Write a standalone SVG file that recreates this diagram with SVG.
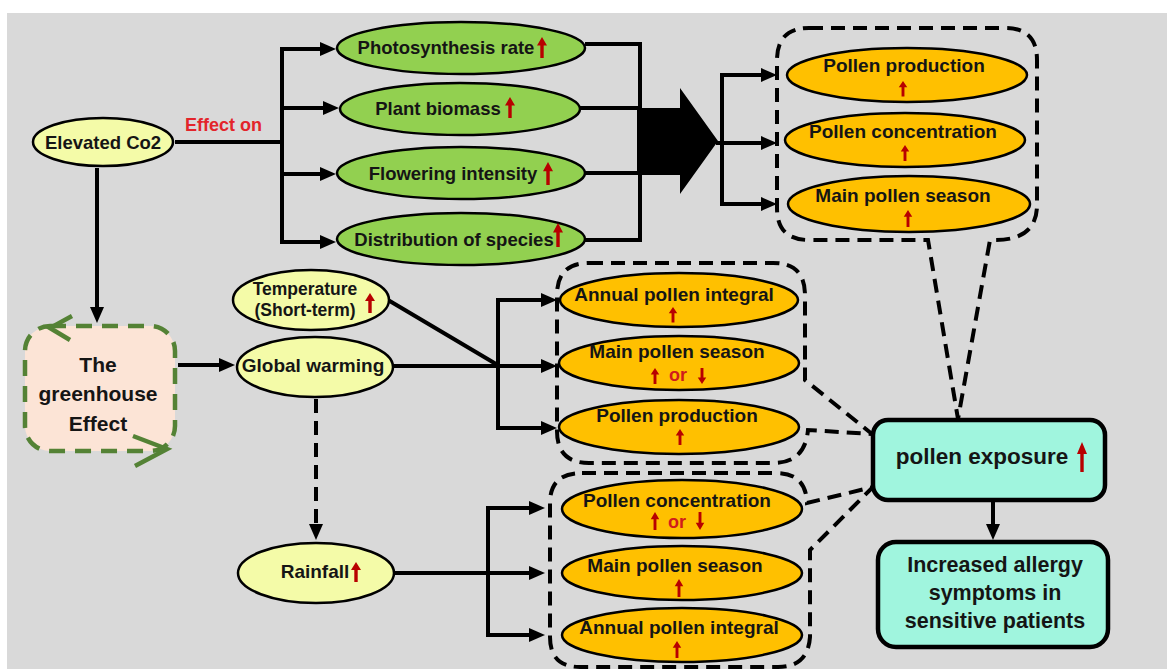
<svg xmlns="http://www.w3.org/2000/svg" xmlns:xlink="http://www.w3.org/1999/xlink" width="1167" height="669" viewBox="0 0 1167 669">
<style>
.t{font-family:"Liberation Sans",Arial,sans-serif;font-weight:bold;fill:#151515;text-anchor:middle}
.g{font-size:18.5px}
.o{font-size:19px}
.y{fill:#f4fba8;stroke:#000;stroke-width:2.5}
.gr{fill:#92d050;stroke:#000;stroke-width:2.5}
.or{fill:#ffc000;stroke:#000;stroke-width:2.5}
.c{fill:none;stroke:#000;stroke-width:4}
.d{fill:none;stroke:#000;stroke-width:4;stroke-dasharray:14 8}
.aq{fill:#a0f5de;stroke:#000;stroke-width:4.5}
.rt{fill:#d01c1c;font-family:"Liberation Sans",Arial,sans-serif;font-weight:bold;text-anchor:middle;font-size:18px}
</style>
<defs>
<marker id="ah" markerUnits="userSpaceOnUse" markerWidth="16" markerHeight="14" viewBox="0 0 16 14" refX="6" refY="7" orient="auto">
<path d="M0,0 L16,7 L0,14 Z" fill="#000"/>
</marker>
<path id="ua" d="M0,0 L5,8 L1.7,8 L1.7,20 L-1.7,20 L-1.7,8 L-5,8 Z" fill="#b80000"/>
</defs>
<rect width="1167" height="669" fill="#fff"/>
<rect x="7" y="13" width="1160" height="656" fill="#d9d9d9"/>

<g id="connectors">
<path class="c" d="M175,142 H282"/>
<path class="c" d="M282,142 V49 H326" marker-end="url(#ah)"/>
<path class="c" d="M282,142 V242 H326" marker-end="url(#ah)"/>
<path class="c" d="M282,108 H329" marker-end="url(#ah)"/>
<path class="c" d="M282,174 H326" marker-end="url(#ah)"/>
<path class="c" d="M97,168 V313" marker-end="url(#ah)"/>
<path class="c" d="M585,44 H640 V240 H585"/>
<path class="c" d="M580,108 H640"/>
<path class="c" d="M585,173 H640"/>
<polygon points="637,108 680,108 680,88 718,141 680,194 680,175 637,175" fill="#000"/>
<path class="c" d="M716,143 H767" marker-end="url(#ah)"/>
<path class="c" d="M722,143 V75 H767" marker-end="url(#ah)"/>
<path class="c" d="M722,143 V204 H767" marker-end="url(#ah)"/>
<path class="c" d="M388,300 L496,364"/>
<path class="c" d="M393,366 H498"/>
<path class="c" d="M498,366 V300 H547" marker-end="url(#ah)"/>
<path class="c" d="M498,366 V428 H547" marker-end="url(#ah)"/>
<path class="c" d="M498,366 H547" marker-end="url(#ah)"/>
<path class="c" d="M178,365 H225" marker-end="url(#ah)"/>
<path class="d" d="M316,399 V530" marker-end="url(#ah)"/>
<path class="c" d="M395,573 H488"/>
<path class="c" d="M488,573 V508 H535" marker-end="url(#ah)"/>
<path class="c" d="M488,573 V635 H535" marker-end="url(#ah)"/>
<path class="c" d="M488,573 H535" marker-end="url(#ah)"/>
<path class="c" d="M993,500 V530" marker-end="url(#ah)"/>
</g>

<g id="group-co2-effects">
<path class="d" d="M809,28 H1005 Q1037,28 1037,60 V205 Q1037,240 995,240 H990 L958,419 L928,240 H809 Q777,240 777,208 V60 Q777,28 809,28 Z"/>
</g>
<g id="group-warming">
<path class="d" d="M589,263 H773 Q805,263 805,295 V380 L872,434 L808,430 Q805,463 773,463 H589 Q557,463 557,431 V295 Q557,263 589,263 Z"/>
</g>
<g id="group-rainfall">
<path class="d" d="M582,473 H776 Q806,473 807,503 L873,487 L810,550 V637 Q808,667 778,667 H580 Q550,667 550,637 V503 Q550,473 582,473 Z"/>
</g>

<g id="elevated-co2">
<ellipse class="y" cx="103" cy="142" rx="70" ry="24"/>
<text class="t" x="103" y="149" font-size="18.5">Elevated Co2</text>
<text x="185" y="131" font-family="Liberation Sans,Arial,sans-serif" font-weight="bold" font-size="18" fill="#e3242b">Effect on</text>
</g>

<g id="photosynthesis">
<ellipse class="gr" cx="461" cy="48" rx="124" ry="26"/>
<text class="t g" x="446" y="54">Photosynthesis rate</text>
<use href="#ua" transform="translate(542,37) scale(1,1.05)"/>
</g>
<g id="plant-biomass">
<ellipse class="gr" cx="460" cy="109" rx="120" ry="26"/>
<text class="t g" x="438" y="115">Plant biomass</text>
<use href="#ua" transform="translate(510,97) scale(1,1.05)"/>
</g>
<g id="flowering">
<ellipse class="gr" cx="461" cy="173" rx="124" ry="26"/>
<text class="t g" x="453" y="180">Flowering intensity</text>
<use href="#ua" transform="translate(548,162) scale(1,1.15)"/>
</g>
<g id="distribution">
<ellipse class="gr" cx="461" cy="239" rx="124" ry="26"/>
<text class="t g" x="454" y="246">Distribution of species</text>
<use href="#ua" transform="translate(558,223) scale(1,1.2)"/>
</g>

<g id="b1-production">
<ellipse class="or" cx="907" cy="75" rx="120" ry="27"/>
<text class="t o" x="904" y="72">Pollen production</text>
<use href="#ua" transform="translate(903,81) scale(0.85,0.78)"/>
</g>
<g id="b1-concentration">
<ellipse class="or" cx="905" cy="140" rx="120" ry="27"/>
<text class="t o" x="903" y="138">Pollen concentration</text>
<use href="#ua" transform="translate(905,145) scale(0.85,0.8)"/>
</g>
<g id="b1-season">
<ellipse class="or" cx="909" cy="204" rx="121" ry="28"/>
<text class="t o" x="903" y="202">Main pollen season</text>
<use href="#ua" transform="translate(908,210) scale(0.85,0.85)"/>
</g>

<g id="temperature">
<ellipse class="y" cx="311" cy="300" rx="78" ry="30"/>
<text class="t" x="305" y="295" font-size="17.5">Temperature</text>
<text class="t" x="305" y="316" font-size="17.5">(Short-term)</text>
<use href="#ua" transform="translate(370,293) scale(1,1)"/>
</g>
<g id="global-warming">
<ellipse class="y" cx="315" cy="367" rx="78" ry="30"/>
<text class="t" x="313" y="372" font-size="19">Global warming</text>
</g>
<g id="greenhouse">
<rect x="25" y="326" width="150" height="125" rx="25" fill="#fce4d6" stroke="#548235" stroke-width="4.5" stroke-dasharray="16 10"/>
<polyline points="72,316 50,328 70,340" fill="none" stroke="#548235" stroke-width="4.5"/>
<polyline points="133,436 167,449 135,466" fill="none" stroke="#548235" stroke-width="4.5"/>
<text class="t" x="98" y="372" font-size="21">The</text>
<text class="t" x="98" y="401" font-size="21">greenhouse</text>
<text class="t" x="98" y="431" font-size="21">Effect</text>
</g>
<g id="rainfall">
<ellipse class="y" cx="316" cy="573" rx="78" ry="30"/>
<text class="t" x="315" y="578" font-size="19">Rainfall</text>
<use href="#ua" transform="translate(356,562) scale(1,1)"/>
</g>

<g id="b2-integral">
<ellipse class="or" cx="679" cy="300" rx="119" ry="27"/>
<text class="t o" x="674" y="301">Annual pollen integral</text>
<use href="#ua" transform="translate(673,307) scale(0.85,0.78)"/>
</g>
<g id="b2-season">
<ellipse class="or" cx="679" cy="363" rx="120" ry="27"/>
<text class="t o" x="677" y="358">Main pollen season</text>
<use href="#ua" transform="translate(655,368) scale(0.85,0.8)"/>
<text class="rt" x="678" y="381">or</text>
<use href="#ua" transform="translate(702,384) scale(0.85,-0.8)"/>
</g>
<g id="b2-production">
<ellipse class="or" cx="679" cy="427" rx="120" ry="27"/>
<text class="t o" x="677" y="422">Pollen production</text>
<use href="#ua" transform="translate(680,429) scale(0.85,0.8)"/>
</g>

<g id="b3-concentration">
<ellipse class="or" cx="682" cy="509" rx="120" ry="29"/>
<text class="t o" x="677" y="507">Pollen concentration</text>
<use href="#ua" transform="translate(655,512) scale(0.85,0.9)"/>
<text class="rt" x="677" y="528">or</text>
<use href="#ua" transform="translate(700,530) scale(0.85,-0.9)"/>
</g>
<g id="b3-season">
<ellipse class="or" cx="682" cy="573" rx="120" ry="27"/>
<text class="t o" x="675" y="572">Main pollen season</text>
<use href="#ua" transform="translate(679,579) scale(0.85,0.9)"/>
</g>
<g id="b3-integral">
<ellipse class="or" cx="682" cy="635" rx="120" ry="27"/>
<text class="t o" x="679" y="634">Annual pollen integral</text>
<use href="#ua" transform="translate(677,641) scale(0.85,0.85)"/>
</g>

<g id="pollen-exposure">
<rect class="aq" x="873" y="420" width="232" height="80" rx="15"/>
<text class="t" x="982" y="464" font-size="22.5">pollen exposure</text>
<use href="#ua" transform="translate(1082,442) scale(1,1.5)"/>
</g>
<g id="allergy">
<rect class="aq" x="878" y="542" width="230" height="105" rx="18"/>
<text class="t" x="995" y="572" font-size="21.5">Increased allergy</text>
<text class="t" x="995" y="600" font-size="21.5">symptoms in</text>
<text class="t" x="995" y="628" font-size="21.5">sensitive patients</text>
</g>
</svg>
